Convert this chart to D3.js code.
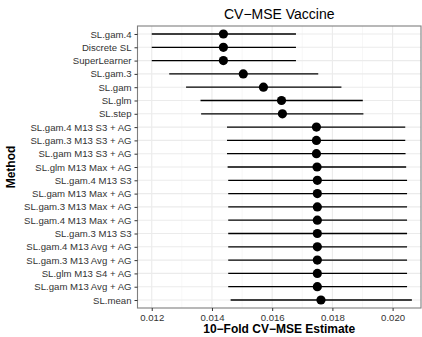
<!DOCTYPE html>
<html>
<head>
<meta charset="utf-8">
<script src="https://cdn.jsdelivr.net/npm/d3@7"></script>
<style>
  html, body { margin: 0; padding: 0; background: #fff; }
  svg { display: block; }
  text { font-family: "Liberation Sans", Arial, sans-serif; }
</style>
</head>
<body>
<svg id="chart" width="422" height="337"></svg>
<script>
// Methods, top to bottom
const methods = [
  "SL.gam.4", "Discrete SL", "SuperLearner", "SL.gam.3", "SL.gam", "SL.glm", "SL.step",
  "SL.gam.4 M13 S3 + AG", "SL.gam.3 M13 S3 + AG", "SL.gam M13 S3 + AG", "SL.glm M13 Max + AG",
  "SL.gam.4 M13 S3", "SL.gam M13 Max + AG", "SL.gam.3 M13 Max + AG", "SL.gam.4 M13 Max + AG",
  "SL.gam.3 M13 S3", "SL.gam.4 M13 Avg + AG", "SL.gam.3 M13 Avg + AG", "SL.glm M13 S4 + AG",
  "SL.gam M13 Avg + AG", "SL.mean"
];

// 10-fold CV-MSE estimates and 95% interval bounds
const estimate = [0.01438, 0.01438, 0.01438, 0.01504, 0.01571, 0.01631, 0.01634,
  0.01747, 0.01747, 0.01747, 0.01749, 0.01750, 0.01750, 0.01750, 0.01750,
  0.01750, 0.01750, 0.01750, 0.01750, 0.01750, 0.01762];
const lower = [0.01200, 0.01200, 0.01200, 0.01258, 0.01314, 0.01362, 0.01364,
  0.01450, 0.01450, 0.01450, 0.01452, 0.01454, 0.01454, 0.01454, 0.01454,
  0.01454, 0.01454, 0.01454, 0.01454, 0.01454, 0.01462];
const upper = [0.01679, 0.01679, 0.01679, 0.01753, 0.01830, 0.01901, 0.01903,
  0.02042, 0.02042, 0.02043, 0.02045, 0.02048, 0.02048, 0.02048, 0.02048,
  0.02048, 0.02048, 0.02048, 0.02048, 0.02048, 0.02064];

const xTicks = [0.012, 0.014, 0.016, 0.018, 0.020];
const xMinor = [0.013, 0.015, 0.017, 0.019];

const svg = d3.select("#chart");
const panel = { left: 137.5, right: 421, top: 26, bottom: 308 };

const x = d3.scaleLinear().domain([0.011527, 0.020943]).range([panel.left, panel.right]);
const y = d3.scalePoint().domain(methods).range([panel.top, panel.bottom]).padding(0.6);

// panel background
svg.append("rect")
  .attr("x", panel.left).attr("y", panel.top)
  .attr("width", panel.right - panel.left).attr("height", panel.bottom - panel.top)
  .attr("fill", "#fff");

// minor vertical grid
svg.append("g").selectAll("line").data(xMinor).join("line")
  .attr("x1", d => x(d)).attr("x2", d => x(d))
  .attr("y1", panel.top).attr("y2", panel.bottom)
  .attr("stroke", "#f2f2f2").attr("stroke-width", 0.6);

// major grid
svg.append("g").selectAll("line").data(xTicks).join("line")
  .attr("x1", d => x(d)).attr("x2", d => x(d))
  .attr("y1", panel.top).attr("y2", panel.bottom)
  .attr("stroke", "#ebebeb").attr("stroke-width", 1.1);
svg.append("g").selectAll("line").data(methods).join("line")
  .attr("x1", panel.left).attr("x2", panel.right)
  .attr("y1", d => y(d)).attr("y2", d => y(d))
  .attr("stroke", "#ebebeb").attr("stroke-width", 1.1);

// interval segments
svg.append("g").selectAll("line").data(methods).join("line")
  .attr("x1", (d, i) => x(lower[i])).attr("x2", (d, i) => x(upper[i]))
  .attr("y1", d => y(d)).attr("y2", d => y(d))
  .attr("stroke", "#000").attr("stroke-width", 1.3);

// point estimates
svg.append("g").selectAll("circle").data(methods).join("circle")
  .attr("cx", (d, i) => x(estimate[i])).attr("cy", d => y(d))
  .attr("r", 4.6).attr("fill", "#000");

// panel border
svg.append("rect")
  .attr("x", panel.left).attr("y", panel.top)
  .attr("width", panel.right - panel.left).attr("height", panel.bottom - panel.top)
  .attr("fill", "none").attr("stroke", "#7f7f7f").attr("stroke-width", 1.1);

// x axis
const xAxis = svg.append("g")
  .attr("transform", `translate(0,${panel.bottom})`)
  .call(d3.axisBottom(x).tickValues(xTicks).tickFormat(d3.format(".3f")).tickSize(3).tickPadding(3));
xAxis.select(".domain").remove();
xAxis.selectAll("line").attr("stroke", "#333").attr("stroke-width", 1);
xAxis.selectAll("text").attr("font-size", 9.6).attr("fill", "#333")
  .attr("font-family", "Liberation Sans, Arial, sans-serif");

// y axis
const yAxis = svg.append("g")
  .attr("transform", `translate(${panel.left},0)`)
  .call(d3.axisLeft(y).tickSize(3).tickPadding(3));
yAxis.select(".domain").remove();
yAxis.selectAll("line").attr("stroke", "#333").attr("stroke-width", 1);
yAxis.selectAll("text").attr("font-size", 9.6).attr("fill", "#333")
  .attr("font-family", "Liberation Sans, Arial, sans-serif");

// title
svg.append("text")
  .attr("x", (panel.left + panel.right) / 2).attr("y", 19)
  .attr("text-anchor", "middle").attr("font-size", 14).attr("fill", "#000")
  .text("CV\u2212MSE Vaccine");

// axis titles
svg.append("text")
  .attr("x", (panel.left + panel.right) / 2).attr("y", 333)
  .attr("text-anchor", "middle").attr("font-size", 12).attr("font-weight", "bold")
  .text("10\u2212Fold CV\u2212MSE Estimate");

svg.append("text")
  .attr("transform", `translate(15,${(panel.top + panel.bottom) / 2}) rotate(-90)`)
  .attr("text-anchor", "middle").attr("font-size", 12).attr("font-weight", "bold")
  .text("Method");
</script>
</body>
</html>
